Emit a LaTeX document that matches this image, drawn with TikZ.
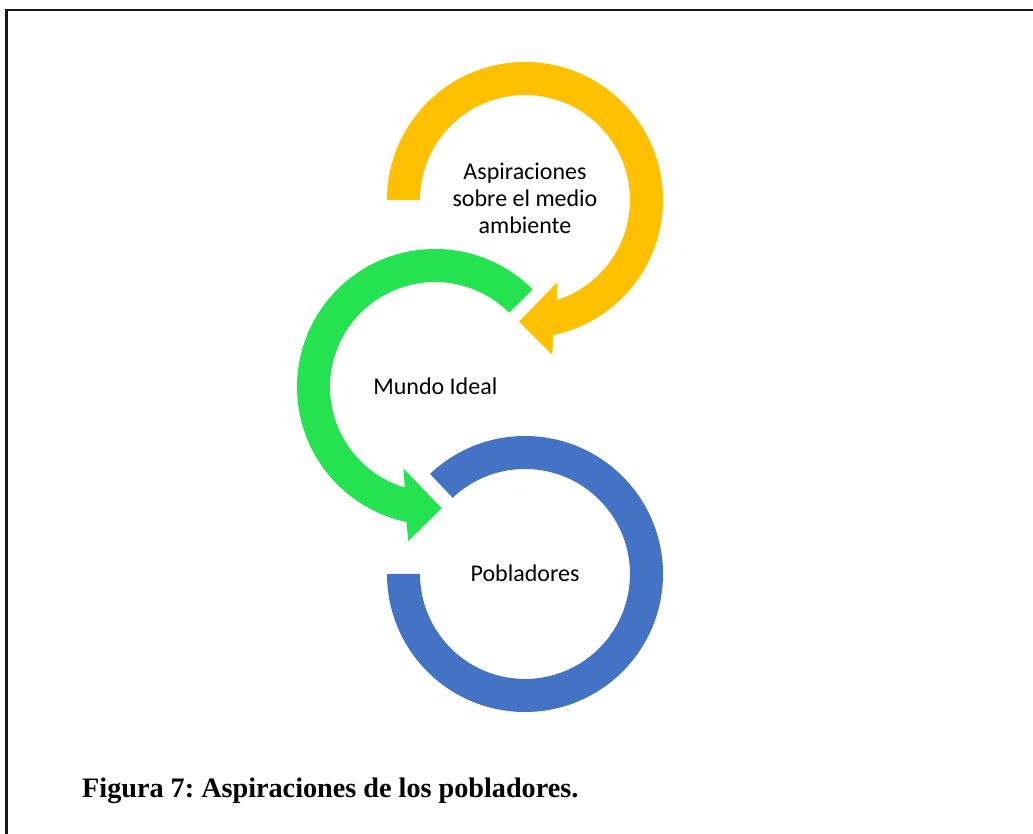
\documentclass[tikz,border=0pt]{standalone}
\usepackage{fontspec}
\setmainfont{Carlito}
\newfontfamily\capfont{Liberation Serif}
\definecolor{ringyellow}{HTML}{FFC000}
\definecolor{ringgreen}{RGB}{36,226,80}
\definecolor{ringblue}{HTML}{4472C4}
\tikzset{
  ringlabel/.style={font=\fontsize{24}{26.7}\selectfont, text=black, inner sep=0pt, align=center},
  figcaption/.style={font=\capfont\bfseries\fontsize{28.2}{34}\selectfont\frenchspacing, inner sep=0pt, anchor=base west}
}
\begin{document}
\begin{tikzpicture}[x=1pt,y=1pt]
  \useasboundingbox (0,0) rectangle (1033,-834);
  \clip (0,0) rectangle (1033,-834);
  \fill[white] (0,0) rectangle (1033,-834);
  % frame running off the right and bottom edges
  \draw[line width=2.6pt, black!90] (6.5,-10) rectangle (1050,-860);

  % top ring: open at lower left, arrow head pointing left
  \fill[ringyellow] (387,-200) arc[start angle=180, end angle=-78.2, radius=138pt]
    -- (552.3,-355) -- (519,-321.7) -- (557.3,-282.3) -- (557.1,-300)
    arc[start angle=-72.2, end angle=180, radius=105pt] -- cycle;

  % middle ring: open at the right, arrow head pointing right
  \fill[ringgreen] (532.6,-289.4) arc[start angle=45, end angle=258.1, radius=138pt]
    -- (408.3,-541) -- (441.7,-508.3) -- (403.3,-468.3) -- (404.9,-487.6)
    arc[start angle=253.35, end angle=45, radius=105pt] -- cycle;

  % bottom ring: open at upper left, no arrow head
  \fill[ringblue] (387,-574) arc[start angle=180, end angle=493.5, radius=138pt]
    -- (452.7,-497.8)
    arc[start angle=493.5, end angle=180, radius=105pt] -- cycle;

  \node[ringlabel] (aspiraciones) at (525,-198.2) {Aspiraciones\\sobre el medio\\ambiente};
  \node[ringlabel, anchor=base] (mundo) at (435.3,-394.3) {Mundo Ideal};
  \node[ringlabel, anchor=base] (pobladores) at (525,-581.7) {Pobladores};

  \node[figcaption] (caption) at (82,-797) {Figura 7: Aspiraciones de los pobladores.};
\end{tikzpicture}
\end{document}
